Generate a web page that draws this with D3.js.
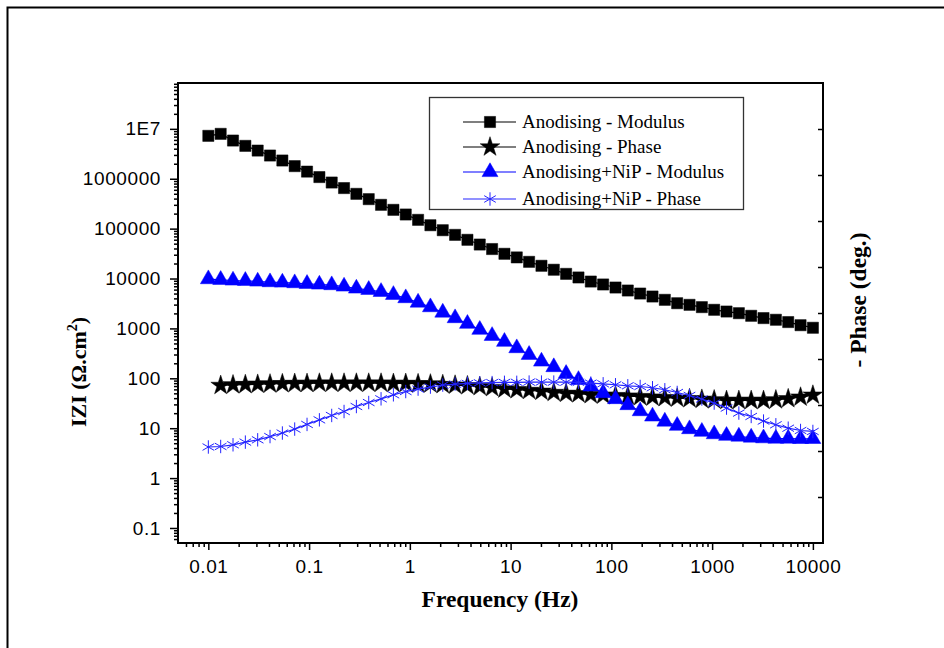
<!DOCTYPE html>
<html>
<head>
<meta charset="utf-8">
<script src="https://cdn.jsdelivr.net/npm/d3@7"></script>
<style>
  body { margin: 0; background: #fff; }
  .tick text { font-family: "Liberation Sans", Arial, sans-serif; font-size: 19px; letter-spacing: 0.6px; fill: #000; }
  .tick line { stroke: #000; stroke-width: 1.5; }
  .title { font-family: "Liberation Serif", "Times New Roman", serif; font-weight: bold; font-size: 23.5px; fill: #000; }
  .legend-text { font-family: "Liberation Serif", "Times New Roman", serif; font-size: 19px; fill: #000; }
</style>
</head>
<body>
<div id="plot"></div>
<script>
// Frequencies (Hz) of the measured points
var frequency = [0.01, 0.01326, 0.01758, 0.0233, 0.03089, 0.04095, 0.05429, 0.07197, 0.09541, 0.1265,
  0.1677, 0.2223, 0.2947, 0.3907, 0.5179, 0.6866, 0.9103, 1.207, 1.6, 2.121,
  2.812, 3.728, 4.942, 6.551, 8.685, 11.51, 15.26, 20.24, 26.83, 35.56,
  47.15, 62.51, 82.86, 109.9, 145.6, 193.1, 256, 339.3, 449.9, 596.4,
  790.7, 1048, 1390, 1842, 2442, 3237, 4292, 5690, 7543, 10000];

// Anodising - Modulus
var anodModulus = [7.24e6, 7.94e6, 5.83e6, 4.56e6, 3.67e6, 2.92e6, 2.32e6, 1.79e6, 1.39e6, 1.08e6,
  8.4e5, 6.5e5, 4.98e5, 3.9e5, 3.0e5, 2.38e5, 1.92e5, 1.5e5, 1.17e5, 9.3e4,
  7.5e4, 5.97e4, 4.8e4, 3.9e4, 3.13e4, 2.65e4, 2.16e4, 1.8e4, 1.5e4, 1.24e4,
  1.05e4, 8.7e3, 7.6e3, 6.6e3, 5.75e3, 5.0e3, 4.36e3, 3.74e3, 3.2e3, 2.97e3,
  2.67e3, 2.36e3, 2.18e3, 2.02e3, 1.79e3, 1.61e3, 1.49e3, 1.34e3, 1.16e3, 1.03e3];

// Anodising - Phase (first frequency not measured)
var anodPhase = [null, 72, 74, 75, 76, 77, 78, 79, 79, 80,
  80, 80, 80, 80, 80, 79, 79, 78, 77, 75,
  73, 71, 68, 65, 61, 59, 57, 55, 52, 50,
  49, 47, 46, 45, 44, 43, 42, 41, 40, 39,
  38, 37, 36, 36, 36, 36, 37, 39, 42, 46];

// Anodising+NiP - Modulus
var nipModulus = [9730, 9430, 9130, 9000, 8710, 8470, 8320, 8090, 7840, 7590,
  7380, 6920, 6310, 5940, 5410, 4710, 4050, 3300, 2670, 2080,
  1610, 1240, 940, 710, 540, 403, 296, 217, 168, 123,
  93, 68.6, 50.6, 38.4, 29.1, 22.0, 17.2, 13.6, 11.2, 9.6,
  8.5, 7.6, 7.05, 6.8, 6.5, 6.3, 6.2, 6.2, 6.1, 6.1];

// Anodising+NiP - Phase
var nipPhase = [4.2, 4.3, 4.65, 5.26, 5.85, 6.8, 8.0, 9.6, 11.9, 14.7,
  18.0, 21.6, 27.2, 32.7, 38.8, 46.7, 54.3, 60.8, 66.7, 73.1,
  76.6, 79, 81, 82, 83, 83, 84, 84, 84, 84,
  83, 80, 77.6, 74.2, 70.8, 68.6, 64.6, 58.9, 52, 45.3,
  38.4, 31.9, 25.3, 20.1, 17.2, 13.9, 11.7, 10.0, 9.0, 8.6];

// Axis tick labels
var xTicks = [0.01, 0.1, 1, 10, 100, 1000, 10000];
var yTicks = [0.1, 1, 10, 100, 1000, 10000, 100000, 1000000, 1e7];
var rightTicks = [10, 20, 30, 40, 50, 60, 70, 80, 90];

var seriesNames = ["Anodising - Modulus", "Anodising - Phase", "Anodising+NiP - Modulus", "Anodising+NiP - Phase"];

// SVG area
var svgWidth = 944;
var svgHeight = 648;
var plot = { left: 178, right: 823, top: 83, bottom: 543 };

var svg = d3.select("#plot")
  .append("svg")
  .attr("width", svgWidth)
  .attr("height", svgHeight);

// outer frame
svg.append("path")
  .attr("d", "M944,7.5H7.5V648")
  .attr("fill", "none")
  .attr("stroke", "#000")
  .attr("stroke-width", 2);

// scales
var xScale = d3.scaleLog()
  .domain([0.005, 12600])
  .range([plot.left, plot.right]);

var yScale = d3.scaleLog()
  .domain([0.05, 8.3e7])
  .range([plot.bottom, plot.top]);

var yRight = d3.scaleLinear()
  .domain([0, 100])
  .range([plot.bottom, plot.top]);

// minor tick positions for the log axes
function minorTicks(lo, hi) {
  var out = [];
  for (var e = -3; e <= 8; e++) {
    for (var m = 2; m <= 9; m++) {
      var v = m * Math.pow(10, e);
      if (v > lo && v < hi) out.push(v);
    }
  }
  return out;
}

// bottom axis
svg.append("g")
  .attr("transform", "translate(0," + plot.bottom + ")")
  .call(d3.axisBottom(xScale).tickValues(minorTicks(0.005, 12600)).tickSize(4).tickFormat(""))
  .call(g => g.select(".domain").remove());

svg.append("g")
  .attr("transform", "translate(0," + plot.bottom + ")")
  .call(d3.axisBottom(xScale).tickValues(xTicks).tickSize(7).tickPadding(10).tickFormat(d => String(d)))
  .call(g => g.select(".domain").remove());

// left axis
svg.append("g")
  .attr("transform", "translate(" + plot.left + ",0)")
  .call(d3.axisLeft(yScale).tickValues(minorTicks(0.05, 8.3e7)).tickSize(4).tickFormat(""))
  .call(g => g.select(".domain").remove());

svg.append("g")
  .attr("transform", "translate(" + plot.left + ",0)")
  .call(d3.axisLeft(yScale).tickValues(yTicks).tickSize(8).tickPadding(9)
    .tickFormat(d => d >= 1e7 ? "1E7" : String(d)))
  .call(g => g.select(".domain").remove());

// right axis (phase), ticks inside, no labels
svg.append("g")
  .attr("transform", "translate(" + plot.right + ",0)")
  .call(d3.axisRight(yRight).tickValues(rightTicks).tickSize(-5).tickFormat(""))
  .call(g => g.select(".domain").remove());

// plot frame
svg.append("rect")
  .attr("x", plot.left)
  .attr("y", plot.top)
  .attr("width", plot.right - plot.left)
  .attr("height", plot.bottom - plot.top)
  .attr("fill", "none")
  .attr("stroke", "#000")
  .attr("stroke-width", 2);

// symbols
var asterisk = {
  draw: function(context, size) {
    var r = Math.sqrt(size) / 2;
    for (var k = 0; k < 3; k++) {
      var a = Math.PI / 2 + k * Math.PI / 3;
      context.moveTo(r * Math.cos(a), r * Math.sin(a));
      context.lineTo(-r * Math.cos(a), -r * Math.sin(a));
    }
  }
};

var series = [
  { name: seriesNames[0], values: anodModulus, color: "#000", symbol: d3.symbolSquare, size: 125, filled: true },
  { name: seriesNames[1], values: anodPhase, color: "#000", symbol: d3.symbolStar, size: 120, filled: true },
  { name: seriesNames[2], values: nipModulus, color: "#0000ff", symbol: d3.symbolTriangle, size: 110, filled: true },
  { name: seriesNames[3], values: nipPhase, color: "#2424ff", symbol: asterisk, size: 180, filled: false }
];

var drawLine = d3.line()
  .defined(d => d.v != null)
  .x(d => xScale(d.f))
  .y(d => yScale(d.v));

series.forEach(function(s) {
  var pts = frequency.map((f, i) => ({ f: f, v: s.values[i] })).filter(d => d.v != null);

  svg.append("path")
    .attr("d", drawLine(pts))
    .attr("fill", "none")
    .attr("stroke", s.color)
    .attr("stroke-width", 1.2);

  svg.append("g").selectAll("path")
    .data(pts)
    .enter()
    .append("path")
    .attr("transform", d => "translate(" + xScale(d.f) + "," + yScale(d.v) + ")")
    .attr("d", d3.symbol().type(s.symbol).size(s.size))
    .attr("fill", s.filled ? s.color : "none")
    .attr("stroke", s.color)
    .attr("stroke-width", s.filled ? 0.5 : 1);
});

// legend
var legend = svg.append("g");
legend.append("rect")
  .attr("x", 429.5)
  .attr("y", 97.5)
  .attr("width", 314)
  .attr("height", 112)
  .attr("fill", "#fff")
  .attr("stroke", "#333")
  .attr("stroke-width", 1.3);

var legendRows = [122, 147, 172, 199];
series.forEach(function(s, i) {
  var y = legendRows[i];
  legend.append("line")
    .attr("x1", 463).attr("x2", 516)
    .attr("y1", y).attr("y2", y)
    .attr("stroke", s.color)
    .attr("stroke-width", 1.2);
  legend.append("path")
    .attr("transform", "translate(490," + y + ")")
    .attr("d", d3.symbol().type(s.symbol).size(s.size))
    .attr("fill", s.filled ? s.color : "none")
    .attr("stroke", s.color)
    .attr("stroke-width", s.filled ? 0.5 : 1);
  legend.append("text")
    .attr("class", "legend-text")
    .attr("x", 522)
    .attr("y", y + 6)
    .text(s.name);
});

// axis titles
svg.append("text")
  .attr("class", "title")
  .attr("x", 500)
  .attr("y", 607)
  .attr("text-anchor", "middle")
  .text("Frequency (Hz)");

var yTitle = svg.append("text")
  .attr("class", "title")
  .attr("transform", "translate(86,372) rotate(-90)")
  .attr("text-anchor", "middle")
  .style("font-size", "22px");
yTitle.append("tspan").text("IZI (\u03A9.cm");
yTitle.append("tspan").attr("dy", -9).attr("font-size", "14px").text("2");
yTitle.append("tspan").attr("dy", 9).text(")");

svg.append("text")
  .attr("class", "title")
  .attr("transform", "translate(866,300) rotate(-90)")
  .attr("text-anchor", "middle")
  .text("- Phase (deg.)");
</script>
</body>
</html>
